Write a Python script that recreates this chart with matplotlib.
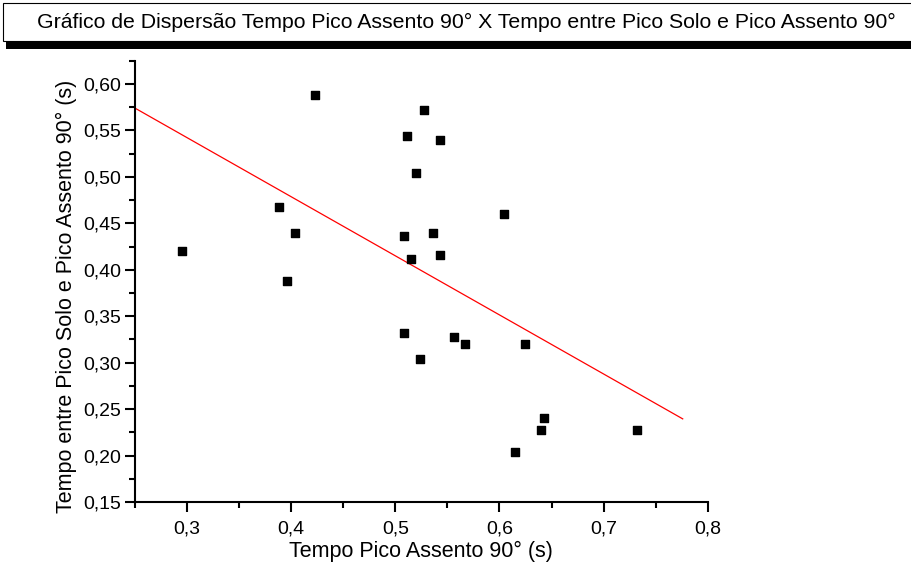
import numpy as np
import matplotlib as mpl
import matplotlib.pyplot as plt
from matplotlib.patches import Rectangle
from matplotlib.ticker import MultipleLocator, FuncFormatter

# data
tempo_pico = [0.295, 0.423, 0.388, 0.404, 0.396, 0.528, 0.511, 0.543, 0.520,
              0.604, 0.508, 0.536, 0.515, 0.543, 0.508, 0.556, 0.524, 0.567,
              0.625, 0.643, 0.640, 0.615, 0.732]
tempo_entre = [0.420, 0.588, 0.468, 0.440, 0.388, 0.572, 0.544, 0.540, 0.504,
               0.460, 0.436, 0.440, 0.412, 0.416, 0.332, 0.328, 0.304, 0.320,
               0.320, 0.240, 0.228, 0.204, 0.228]
fit_x = [0.25, 0.776]
fit_y = [0.574, 0.2395]

# configuration
mpl.rcParams['font.family'] = 'Liberation Sans'
mpl.rcParams['xtick.labelsize'] = 14
mpl.rcParams['ytick.labelsize'] = 14

fig = plt.figure(figsize=(9.12, 5.74), dpi=100)
ax = fig.add_axes([0.148, 0.1254, 0.628, 0.7688])

ax.scatter(tempo_pico, tempo_entre, marker='s', s=36, color='k', zorder=3)
ax.plot(fit_x, fit_y, color='r', linewidth=0.9)

# xlim, ylim
ax.set_xlim(0.25, 0.8)
ax.set_ylim(0.15, 0.625)

# ticks
ax.xaxis.set_major_locator(MultipleLocator(0.1))
ax.xaxis.set_minor_locator(MultipleLocator(0.05))
ax.yaxis.set_major_locator(MultipleLocator(0.05))
ax.yaxis.set_minor_locator(MultipleLocator(0.025))
ax.xaxis.set_major_formatter(FuncFormatter(lambda v, p: ('%.1f' % v).replace('.', ',')))
ax.yaxis.set_major_formatter(FuncFormatter(lambda v, p: ('%.2f' % v).replace('.', ',')))
ax.tick_params(which='major', length=7, width=1.5, direction='out', pad=3)
ax.tick_params(axis='x', which='major', pad=6)
ax.tick_params(which='minor', length=4, width=1.5, direction='out')

for s in ['top', 'right']:
    ax.spines[s].set_visible(False)
for s in ['left', 'bottom']:
    ax.spines[s].set_linewidth(1.5)

# labels
ax.set_xlabel('Tempo Pico Assento 90° (s)', fontsize=15.5)
ax.set_ylabel('Tempo entre Pico Solo e Pico Assento 90° (s)', fontsize=15.5)
ax.xaxis.set_label_coords(0.5, -0.113)
ax.yaxis.set_label_coords(-0.119, 0.465)
ax.xaxis.label.set_va('center')
ax.yaxis.label.set_va('center')

# title box with shadow
W, H = 912, 574
fig.patches.append(Rectangle((6 / W, 1 - 49 / H), 1, 9 / H, transform=fig.transFigure,
                             facecolor='k', edgecolor='none', zorder=1))
fig.patches.append(Rectangle((3 / W, 1 - 41 / H), 1, 38 / H, transform=fig.transFigure,
                             facecolor='white', edgecolor='k', linewidth=0.8, zorder=2))
fig.text(466 / W, 1 - 22 / H,
         'Gráfico de Dispersão Tempo Pico Assento 90° X Tempo entre Pico Solo e Pico Assento 90°',
         ha='center', va='center', fontsize=15.3, zorder=3)

fig.savefig('out.png', dpi=100)
